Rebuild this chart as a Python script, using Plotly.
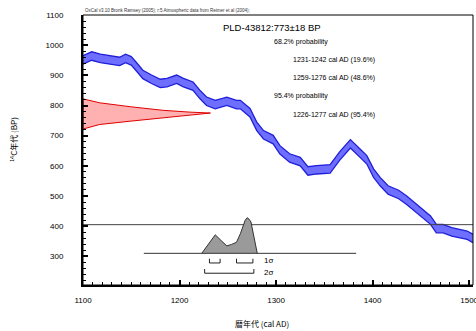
import plotly.graph_objects as go

# --- calibration curve (cal AD vs 14C BP) ---
curve_year = [1100, 1109, 1118, 1131, 1138, 1144, 1150, 1156, 1162, 1171, 1180, 1187, 1197, 1204, 1214,
              1221, 1228, 1237, 1249, 1259, 1263, 1273, 1280, 1287, 1297, 1304, 1314, 1325, 1333, 1342,
              1356, 1366, 1377, 1387, 1394, 1401, 1408, 1416, 1427, 1435, 1439, 1449, 1460, 1466, 1473,
              1482, 1489, 1498, 1504]
curve_bp = [951, 964, 956, 948, 946, 956, 948, 926, 903, 887, 873, 876, 887, 876, 864,
            837, 814, 803, 814, 803, 803, 776, 731, 703, 687, 653, 626, 614, 583, 587,
            590, 633, 673, 642, 620, 576, 547, 520, 505, 487, 476, 448, 420, 392, 392,
            381, 376, 370, 359]
curve_err = 14

# --- measured radiocarbon date distribution (773 +/- 18 BP) ---
date_bp = [722, 737, 748, 759, 767, 775, 778, 784, 796, 809, 822]
date_prob = [0, 0.13, 0.37, 0.63, 0.84, 1.0, 0.84, 0.63, 0.37, 0.13, 0]

# --- calibrated distribution ---
cal_year = [1223, 1230, 1237, 1243, 1249, 1254, 1259, 1263, 1266, 1268, 1270, 1272, 1274, 1276.5, 1278, 1280.5]
cal_prob = [0, 0.26, 0.52, 0.36, 0.21, 0.25, 0.31, 0.55, 0.8, 0.93, 1.0, 0.96, 0.88, 0.56, 0.37, 0]

# --- ranges ---
sigma1_ranges = [(1231, 1242), (1259, 1276)]
sigma2_ranges = [(1226, 1277)]
ref_line_bp = 405
base_span = (1163, 1383)

title_text = "PLD-43812:773\u00b118 BP"
prob_texts = ["68.2% probability", "1231-1242 cal AD (19.6%)", "1259-1276 cal AD (48.6%)",
              "95.4% probability", "1226-1277 cal AD (95.4%)"]
header_text = "OxCal v3.10 Bronk Ramsey (2005); r:5 Atmospheric data from Reimer et al (2004);"

# plotting constants
X0, X1 = 1100, 1504
Y0, Y1 = 205, 1100
date_scale = 132     # years of horizontal extent for peak of measured date
cal_base = 310       # BP baseline of calibrated distribution
cal_scale = 118      # BP height of calibrated peak

FONT = "Liberation Sans, Arial, sans-serif"
fig = go.Figure()

# calibration band
upper = [v + curve_err for v in curve_bp]
lower = [v - curve_err for v in curve_bp]
fig.add_trace(go.Scatter(x=curve_year, y=upper, mode="lines",
                         line=dict(color="#1f1fd8", width=1.3), hoverinfo="skip"))
fig.add_trace(go.Scatter(x=curve_year, y=lower, mode="lines", fill="tonexty",
                         fillcolor="#6e6eff", line=dict(color="#1f1fd8", width=1.3), hoverinfo="skip"))

# measured date (red) along y axis
fig.add_trace(go.Scatter(x=[X0 + p * date_scale for p in date_prob] + [X0], y=date_bp + [date_bp[0]],
                         mode="lines", fill="toself", fillcolor="#ffb0b0",
                         line=dict(color="#e00000", width=1), hoverinfo="skip"))

# reference horizontal line
fig.add_trace(go.Scatter(x=[X0, X1], y=[ref_line_bp, ref_line_bp], mode="lines",
                         line=dict(color="#444444", width=1), hoverinfo="skip"))

# calibrated distribution (grey)
fig.add_trace(go.Scatter(x=cal_year, y=[cal_base + p * cal_scale for p in cal_prob],
                         mode="lines", fill="toself", fillcolor="#9a9a9a",
                         line=dict(color="#333333", width=1), hoverinfo="skip"))
fig.add_trace(go.Scatter(x=list(base_span), y=[cal_base, cal_base], mode="lines",
                         line=dict(color="#333333", width=1), hoverinfo="skip"))

# range brackets
def bracket(r, ybot, ytop):
    return [r[0], r[0], r[1], r[1]], [ytop, ybot, ybot, ytop]

for r in sigma1_ranges:
    bx, by = bracket(r, 278, 292)
    fig.add_trace(go.Scatter(x=bx, y=by, mode="lines", line=dict(color="#222", width=1), hoverinfo="skip"))
for r in sigma2_ranges:
    bx, by = bracket(r, 244, 258)
    fig.add_trace(go.Scatter(x=bx, y=by, mode="lines", line=dict(color="#222", width=1), hoverinfo="skip"))

ann = []
ann.append(dict(x=1285.5, y=287, xref="x", yref="y", text="1\u03c3", showarrow=False,
                xanchor="left", yanchor="middle", font=dict(size=8, family=FONT, color="black")))
ann.append(dict(x=1285.5, y=245, xref="x", yref="y", text="2\u03c3", showarrow=False,
                xanchor="left", yanchor="middle", font=dict(size=8, family=FONT, color="black")))
ann.append(dict(x=1242.5, y=1060, xref="x", yref="y", text=title_text, showarrow=False,
                xanchor="left", yanchor="middle", font=dict(size=9.5, family=FONT, color="black")))
prob_pos = [(1295.5, 1010), (1315.2, 951), (1315.2, 890), (1295.5, 831), (1315.2, 770)]
for t, (px, py) in zip(prob_texts, prob_pos):
    ann.append(dict(x=px, y=py, xref="x", yref="y", text=t, showarrow=False,
                    xanchor="left", yanchor="middle", font=dict(size=7, family=FONT, color="black")))
ann.append(dict(x=0, y=1.015, xref="paper", yref="paper", text=header_text, showarrow=False,
                xanchor="left", yanchor="middle", font=dict(size=4.5, family=FONT, color="#333")))
ann.append(dict(x=(262 - 83) / 390, y=(285 - 323) / 270, xref="paper", yref="paper",
                text="暦年代 (cal AD)", showarrow=False, xanchor="center", yanchor="middle",
                font=dict(size=8, family="Noto Sans CJK JP, " + FONT, color="black")))
ann.append(dict(x=(13 - 83) / 390, y=(285 - 140) / 270, xref="paper", yref="paper",
                text="<sup>14</sup>C年代 (BP)", showarrow=False, xanchor="center", yanchor="middle",
                textangle=-90, font=dict(size=8, family="Noto Sans CJK JP, " + FONT, color="black")))

fig.update_layout(
    width=476, height=331,
    margin=dict(l=83, r=3, t=15, b=46, autoexpand=False),
    paper_bgcolor="white", plot_bgcolor="white",
    showlegend=False,
    annotations=ann,
    shapes=[dict(type="rect", xref="paper", yref="paper", x0=0, y0=0, x1=1, y1=1,
                 line=dict(color="black", width=1))],
    xaxis=dict(range=[X0, X1], showgrid=False, zeroline=False, showline=True, linecolor="black",
               automargin=False, ticklabeloverflow="allow",
               linewidth=2, ticks="inside", ticklen=5, tickcolor="black", tickwidth=1.5,
               tick0=1100, dtick=100, ticklabelstandoff=6,
               minor=dict(ticks="inside", ticklen=3, dtick=10, tickcolor="black", tickwidth=1),
               tickfont=dict(size=8, family=FONT, color="black")),
    yaxis=dict(range=[Y0, Y1], showgrid=False, zeroline=False, showline=True, linecolor="black",
               automargin=False,
               linewidth=2, ticks="inside", ticklen=5, tickcolor="black", tickwidth=1.5,
               tick0=300, dtick=100, ticklabelstandoff=16,
               minor=dict(ticks="inside", ticklen=3, dtick=20, tickcolor="black", tickwidth=1),
               tickfont=dict(size=8, family=FONT, color="black")),
)

fig.write_html("out.html", config={"displayModeBar": False},
               post_script="document.body.style.margin='0px';document.body.style.overflow='hidden';")
